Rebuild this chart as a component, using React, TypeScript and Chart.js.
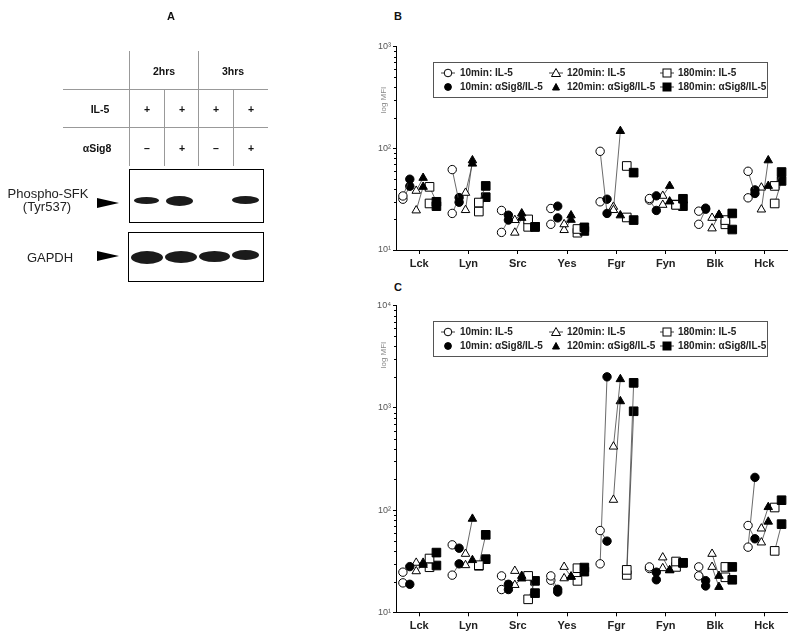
import React, { useEffect, useRef } from "react";
import { Chart, registerables } from "chart.js";
Chart.register(...registerables);

const FONT = "'Liberation Sans', Arial, Helvetica, sans-serif";

const categories = ["Lck", "Lyn", "Src", "Yes", "Fgr", "Fyn", "Blk", "Hck"];
const seriesLabels = [
  "10min: IL-5", "10min: αSig8/IL-5",
  "120min: IL-5", "120min: αSig8/IL-5",
  "180min: IL-5", "180min: αSig8/IL-5",
];
const yTicksB = [10, 100, 1000];
const yTicksC = [10, 100, 1000, 10000];
// x offset of each series within a kinase group (axis units)
const seriesOffsets = [-0.33, -0.19, -0.06, 0.08, 0.21, 0.35];

// Panel B: [donor 1, donor 2], one value per kinase
const b10_IL5 = [[34, 61.8, 24.5, 25.6, 93.5, 32.1, 24.1, 59.5], [31.6, 22.9, 14.9, 17.9, 29.8, 31, 17.9, 32.6]];
const b10_Sig8 = [[49.7, 29.5, 22, 27, 22.9, 34.1, 25.8, 36], [42.4, 32.8, 19.7, 20.7, 31.6, 24.5, 25.2, 39]];
const b120_IL5 = [[38.2, 36.5, 19.7, 17.9, 24.7, 34.1, 20.7, 41.1], [24.5, 24.7, 14.8, 15.7, 26.6, 27.8, 16.3, 25]];
const b120_Sig8 = [[51.2, 70.7, 22.9, 21.9, 148, 42.7, 22.2, 42.7], [41.8, 76.2, 20.7, 19.8, 21.9, 30, 22.2, 76.2]];
const b180_IL5 = [[41.8, 29.3, 20, 16.1, 67.1, 27.8, 19.7, 42.7], [28.7, 23.9, 16.9, 14.8, 20.9, 28, 17.9, 28.7]];
const b180_Sig8 = [[29.8, 42.7, 16.9, 16.7, 57.7, 31.9, 22.9, 58.5], [27, 33.1, 16.9, 15.4, 19.7, 27, 15.9, 47.8]];

// Panel C
const c10_IL5 = [[24.7, 45.7, 22.7, 22.7, 63.1, 27.8, 27.8, 70.7], [19.4, 23.1, 16.7, 20.6, 29.8, 26.8, 22.7, 43.4]];
const c10_Sig8 = [[28, 42.4, 18.8, 16.8, 49.7, 24.7, 20.4, 52.4], [18.8, 29.8, 16.7, 15.8, 2014, 20.8, 18.1, 209]];
const c120_IL5 = [[30.5, 37.3, 25.4, 27.8, 418, 34.4, 37.3, 66], [25.2, 28.9, 18.5, 21.5, 126, 27, 27.8, 48.2]];
const c120_Sig8 = [[30.5, 82.2, 22.7, 22.4, 1910, 25.8, 22.7, 107], [29.1, 32.4, 21.4, 22.2, 1161, 25.8, 17.7, 77]];
const c180_IL5 = [[33.6, 28.9, 22.7, 27, 26, 31.4, 27.8, 106], [27.6, 28.5, 13.4, 20.3, 23.2, 27.8, 22, 39.9]];
const c180_Sig8 = [[38.4, 57.3, 15.4, 27.4, 1758, 30.5, 27.8, 125], [28.7, 33.1, 20.3, 25, 927, 30.5, 20.8, 72.9]];

const shapes = ["circle", "triangle", "rect"];
const radii = [4.2, 4.9, 6.1];

function buildDatasets(pairs: number[][][][]) {
  const sets: any[] = [];
  pairs.forEach((pair, t) => {
    const [openS, filledS] = pair;
    for (let d = 0; d < 2; d++) {
      const data: any[] = [];
      const bg: string[] = [];
      const rad: number[] = [];
      categories.forEach((_, c) => {
        data.push({ x: c + 1 + seriesOffsets[2 * t], y: openS[d][c] });
        bg.push("#ffffff"); rad.push(radii[t]);
        data.push({ x: c + 1 + seriesOffsets[2 * t + 1], y: filledS[d][c] });
        bg.push("#000000"); rad.push(radii[t]);
        data.push({ x: c + 1.47, y: null });
        bg.push("#000000"); rad.push(0);
      });
      sets.push({
        data,
        pointStyle: shapes[t],
        pointRadius: rad,
        pointBackgroundColor: bg,
        pointBorderColor: "#000",
        pointBorderWidth: 1,
        borderColor: "#444",
        borderWidth: 0.8,
        showLine: true,
        spanGaps: false,
        fill: false,
      });
    }
  });
  return sets;
}

const supMap: Record<string, string> = { "1": "¹", "2": "²", "3": "³", "4": "⁴" };

const minorTicks = {
  id: "minorTicks",
  afterDraw(chart: any) {
    const y = chart.scales.y;
    const ctx = chart.ctx;
    const x0 = chart.chartArea.left;
    ctx.save();
    ctx.strokeStyle = "#000";
    ctx.lineWidth = 1;
    for (let dec = 10; dec < y.max; dec *= 10) {
      for (let k = 2; k < 10; k++) {
        const py = Math.round(y.getPixelForValue(k * dec)) + 0.5;
        ctx.beginPath();
        ctx.moveTo(x0 - 2, py);
        ctx.lineTo(x0, py);
        ctx.stroke();
      }
    }
    ctx.restore();
  },
};

function LogChart(props: {
  left: number; top: number; width: number; height: number;
  padTop: number; padBottom: number; xAxisH: number; yMax: number; yTicks: number[];
  pairs: number[][][][];
}) {
  const ref = useRef<HTMLCanvasElement>(null);
  useEffect(() => {
    const chart = new Chart(ref.current as HTMLCanvasElement, {
      type: "line",
      data: { datasets: buildDatasets(props.pairs) },
      options: {
        animation: false,
        responsive: false,
        events: [],
        layout: { padding: { top: props.padTop, right: 13, bottom: props.padBottom, left: 0 } },
        plugins: { legend: { display: false }, tooltip: { enabled: false } },
        scales: {
          x: {
            type: "linear",
            min: 0.53,
            max: 8.46,
            afterBuildTicks: (s: any) => { s.ticks = categories.map((_, i) => ({ value: i + 1 })); },
            afterFit: (s: any) => { s.height = props.xAxisH; },
            ticks: {
              callback: (v: any) => categories[Math.round(Number(v)) - 1] ?? "",
              font: { family: FONT, size: 11, weight: "bold" },
              color: "#222",
              padding: 3,
              maxRotation: 0,
              autoSkip: false,
            },
            grid: { drawOnChartArea: false, drawTicks: true, tickLength: 4, color: "#000" },
            border: { color: "#000", width: 1 },
          },
          y: {
            type: "logarithmic",
            min: 10,
            max: props.yMax,
            afterBuildTicks: (s: any) => { s.ticks = props.yTicks.map((v) => ({ value: v })); },
            afterFit: (s: any) => { s.width = 56; },
            ticks: {
              callback: (v: any) => "10" + supMap[String(Math.round(Math.log10(Number(v))))],
              font: { family: FONT, size: 9 },
              color: "#555",
              padding: 2,
            },
            grid: { drawOnChartArea: false, drawTicks: true, tickLength: 3, color: "#000" },
            border: { color: "#000", width: 1 },
          },
        },
      } as any,
      plugins: [minorTicks],
    });
    return () => chart.destroy();
  }, []);
  return (
    <canvas
      ref={ref}
      width={props.width}
      height={props.height}
      style={{ position: "absolute", left: props.left, top: props.top, width: props.width, height: props.height }}
    />
  );
}

function Symbol({ t, filled }: { t: number; filled: boolean }) {
  const fill = filled ? "#000" : "#fff";
  const showLine = !filled || t === 2;
  return (
    <svg width={16} height={12} style={{ position: "absolute", left: -8, top: -6 }}>
      {showLine && <line x1={1} y1={6} x2={15} y2={6} stroke="#444" strokeWidth={1} />}
      {t === 0 && <circle cx={8} cy={6} r={filled ? 3.4 : 3.8} fill={fill} stroke="#000" strokeWidth={1} />}
      {t === 1 && <polygon points={filled ? "8,2.5 11.5,9 4.5,9" : "8,1.5 12.5,9.5 3.5,9.5"} fill={fill} stroke="#000" strokeWidth={1} />}
      {t === 2 && <rect x={4} y={2} width={8} height={8} fill={fill} stroke="#000" strokeWidth={1} />}
    </svg>
  );
}

function Legend({ top }: { top: number }) {
  const colSym = [448, 556, 667];
  const colText = [460, 567, 678];
  const rows = [top + 11, top + 25];
  const items: any[] = [];
  seriesLabels.forEach((lab, i) => {
    const t = Math.floor(i / 2);
    const filled = i % 2 === 1;
    const ry = rows[filled ? 1 : 0];
    items.push(
      <div key={"s" + i} style={{ position: "absolute", left: colSym[t], top: ry }}>
        <Symbol t={t} filled={filled} />
      </div>
    );
    items.push(
      <div key={"t" + i} style={{ position: "absolute", left: colText[t], top: ry - 6, lineHeight: "12px", fontSize: 10, fontWeight: "bold", color: "#222", whiteSpace: "nowrap" }}>
        {lab}
      </div>
    );
  });
  return (
    <>
      <div style={{ position: "absolute", left: 433, top, width: 335, height: 36, border: "1px solid #555", boxSizing: "border-box" }} />
      {items}
    </>
  );
}

const Text = ({ x, y, children, size = 10.5, bold = true, color = "#111" }: any) => (
  <div style={{ position: "absolute", left: x - 50, top: Math.round(y - size / 2), width: 100, textAlign: "center", fontSize: size, fontWeight: bold ? "bold" : "normal", color, whiteSpace: "nowrap", lineHeight: `${size}px` }}>
    {children}
  </div>
);
const HL = ({ x1, x2, y }: any) => <div style={{ position: "absolute", left: x1, top: y, width: x2 - x1, height: 1, background: "#999" }} />;
const VL = ({ x, y1, y2 }: any) => <div style={{ position: "absolute", left: x, top: y1, width: 1, height: y2 - y1, background: "#999" }} />;
const Band = ({ x1, x2, y, h }: any) => (
  <div style={{ position: "absolute", left: x1, top: y - h / 2, width: x2 - x1, height: h, borderRadius: "50%", background: "#1b1b1b", filter: "blur(0.6px)" }} />
);
const Arrow = ({ y }: any) => (
  <div style={{ position: "absolute", left: 97, top: y - 5.5, width: 0, height: 0, borderTop: "5.5px solid transparent", borderBottom: "5.5px solid transparent", borderLeft: "22px solid #000" }} />
);

function PanelA() {
  return (
    <div style={{ position: "absolute", left: 0, top: 0, width: 300, height: 300, filter: "grayscale(1)" }}>
      <Text x={171} y={16} size={11}>A</Text>
      <VL x={129} y1={51} y2={166} />
      <VL x={198} y1={51} y2={166} />
      <VL x={164} y1={89} y2={166} />
      <VL x={233} y1={89} y2={166} />
      <HL x1={63} x2={268} y={89} />
      <HL x1={63} x2={268} y={127} />
      <Text x={164} y={71}>2hrs</Text>
      <Text x={233} y={71}>3hrs</Text>
      <Text x={100} y={109}>IL-5</Text>
      <Text x={97} y={148}>αSig8</Text>
      {[147, 182, 216, 251].map((x, i) => <Text key={"p" + i} x={x} y={109}>+</Text>)}
      {["–", "+", "–", "+"].map((s, i) => <Text key={"q" + i} x={[147, 182, 216, 251][i]} y={148}>{s}</Text>)}
      <div style={{ position: "absolute", left: 129, top: 169, width: 135, height: 54, border: "1.5px solid #000", boxSizing: "border-box" }} />
      <Band x1={134} x2={159} y={200} h={7} />
      <Band x1={166} x2={193} y={201} h={10} />
      <Band x1={232} x2={259} y={200} h={8} />
      <div style={{ position: "absolute", left: 128, top: 232, width: 136, height: 50, border: "1.5px solid #000", boxSizing: "border-box" }} />
      <Band x1={131} x2={163} y={257} h={13} />
      <Band x1={165} x2={197} y={257} h={12} />
      <Band x1={199} x2={230} y={256} h={11} />
      <Band x1={232} x2={259} y={255} h={10} />
      <Text x={48} y={193} size={13} bold={false} color="#222">Phospho-SFK</Text>
      <Text x={47} y={206} size={13} bold={false} color="#222">(Tyr537)</Text>
      <Arrow y={203} />
      <Text x={50} y={257} size={13} bold={false} color="#222">GAPDH</Text>
      <Arrow y={256} />
    </div>
  );
}

export default function App() {
  const pairsB = [[b10_IL5, b10_Sig8], [b120_IL5, b120_Sig8], [b180_IL5, b180_Sig8]];
  const pairsC = [[c10_IL5, c10_Sig8], [c120_IL5, c120_Sig8], [c180_IL5, c180_Sig8]];
  return (
    <div style={{ position: "absolute", left: 0, top: 0, width: 800, height: 641, background: "#fff", overflow: "hidden", fontFamily: FONT }}>
      <PanelA />
      <Text x={398} y={16} size={11}>B</Text>
      <Text x={398} y={287} size={11}>C</Text>
      <LogChart left={340} top={0} width={460} height={290} padTop={46.7} padBottom={10} xAxisH={30} yMax={1000} yTicks={yTicksB} pairs={pairsB} />
      <LogChart left={340} top={280} width={460} height={361} padTop={25.7} padBottom={0} xAxisH={28.7} yMax={10000} yTicks={yTicksC} pairs={pairsC} />
      <Legend top={62} />
      <Legend top={321} />
      <div style={{ position: "absolute", left: 383, top: 100, transform: "translate(-50%,-50%) rotate(-90deg)", fontSize: 8, color: "#888", whiteSpace: "nowrap" }}>log MFI</div>
      <div style={{ position: "absolute", left: 383, top: 355, transform: "translate(-50%,-50%) rotate(-90deg)", fontSize: 8, color: "#888", whiteSpace: "nowrap" }}>log MFI</div>
    </div>
  );
}
